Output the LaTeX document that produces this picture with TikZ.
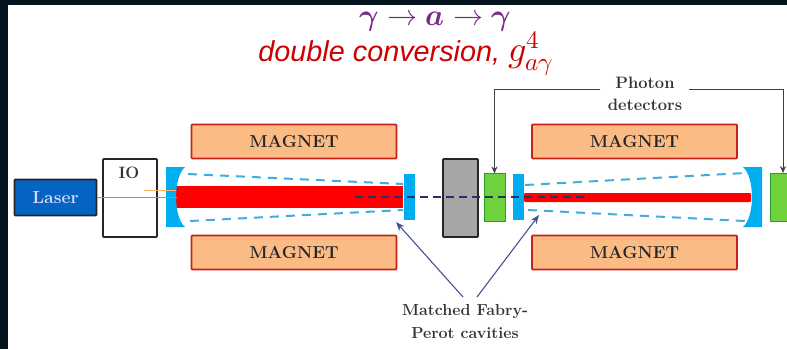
\documentclass[tikz,border=0pt]{standalone}
\usepackage{fontspec}
\usepackage{amsmath}
\usepackage{unicode-math}
\setmathfont{Latin Modern Math}
\newfontfamily\titlefont{Liberation Sans}
\usetikzlibrary{arrows.meta}
\definecolor{bgdark}{HTML}{04141F}
\definecolor{magfill}{HTML}{FBBB85}
\definecolor{magline}{HTML}{C8201C}
\definecolor{cavblue}{HTML}{00AEEF}
\definecolor{dashblue}{HTML}{3FAEDD}
\definecolor{detgreen}{HTML}{6FD23C}
\definecolor{detline}{HTML}{2CA02C}
\definecolor{laserblue}{HTML}{0563C1}
\definecolor{navy}{HTML}{27306F}
\definecolor{arrownavy}{HTML}{47528F}
\definecolor{txtgray}{HTML}{333333}
\definecolor{ttlviolet}{HTML}{7B2A8C}
\tikzset{
  x=1pt,y=-1pt,
  box/.style={inner sep=0pt,outer sep=0pt,anchor=center},
  magnet/.style={box,draw=magline,line width=1.8pt,fill=magfill,rounded corners=0.8pt,minimum width=205pt,minimum height=34pt,text=black!85,font=\fontsize{17.3}{20}\selectfont\bfseries},
  cavity/.style={box,fill=cavblue,minimum width=11pt,minimum height=46pt},
  detector/.style={box,draw=detline,line width=1pt,fill=detgreen,minimum height=48pt},
  lbl/.style={inner sep=0pt,align=center,text=txtgray,font=\fontsize{16.5}{22}\selectfont\bfseries},
  pointer/.style={draw=arrownavy,line width=1.1pt,-{Stealth[length=9pt,width=7pt]}},
  bracket/.style={draw=black!75,line width=1pt,-{Stealth[length=7pt,width=6pt]}},
  cavdash/.style={draw=dashblue,line width=2pt,dash pattern=on 9pt off 7pt},
}
\begin{document}
\begin{tikzpicture}
\useasboundingbox (0,0) rectangle (787,349);
\fill[bgdark] (0,0) rectangle (787,349);
\fill[white] (8,5) rectangle (787,349);
% title
\node[text=ttlviolet,inner sep=0pt] (ttl) at (435.5,21) {\fontsize{30}{32}\selectfont$\symbfit{\gamma}\rightarrow\symbfit{a}\rightarrow\symbfit{\gamma}$};
\node[text=red!80!black,inner sep=0pt] (sub) at (406,54) {\fontsize{28.8}{30}\selectfont\titlefont\itshape double conversion, {\fontsize{36}{38}\selectfont$g^{4}_{a\gamma}$}};
% beams under everything
\fill[red] (176,186) rectangle (403,208);
\fill[red,rounded corners=1pt] (524,193) rectangle (751,202);
% laser and IO
\node[box,draw=black!85,line width=1.8pt,fill=laserblue,rounded corners=0.8pt,minimum width=82pt,minimum height=36pt,text=white!85!blue,font=\fontsize{17.5}{20}\selectfont\bfseries] (laser) at (55.5,197.5) {Laser};
\node[box,draw=black!85,line width=1.8pt,fill=white,rounded corners=0.8pt,minimum width=54pt,minimum height=78pt] (io) at (130,198) {};
\node[lbl,text=black!80] (iotext) at (129,173) {IO};
% curved mirrors
\fill[cavblue] (166,167) -- (185,167) .. controls (179,172) and (176,185) .. (176,197) .. controls (176,209) and (179,222) .. (185,227) -- (166,227) -- cycle;
\fill[cavblue] (762,167) -- (743,167) .. controls (749,172) and (752,185) .. (752,197) .. controls (752,209) and (749,222) .. (743,227) -- (762,227) -- cycle;
\coordinate (mL) at (177,197);
\coordinate (mLo) at (176,190);
\coordinate (ioo) at (144,190);
\draw[red!60!white,line width=0.8pt] (laser.east |- mL) -- (mL);
\draw[orange!60!white,line width=0.8pt] (ioo) -- (mLo);
% dashed cavity envelopes
\coordinate (a1) at (188,174); \coordinate (a2) at (403,184);
\coordinate (b1) at (190,221); \coordinate (b2) at (403,210);
\coordinate (c1) at (525,185); \coordinate (c2) at (745,173);
\coordinate (d1) at (528,210); \coordinate (d2) at (745,221);
\draw[cavdash] (a1) -- (a2);
\draw[cavdash] (b1) -- (b2);
\draw[cavdash] (c1) -- (c2);
\draw[cavdash] (d1) -- (d2);
% magnets
\node[magnet] (m1) at (294,141.5) {MAGNET};
\node[magnet] (m2) at (294,252.5) {MAGNET};
\node[magnet] (m3) at (634.5,141.5) {MAGNET};
\node[magnet] (m4) at (634.5,252.5) {MAGNET};
% optics
\node[cavity] (c3) at (409.5,197) {};
\node[cavity] (c4) at (518.5,197) {};
\node[box,draw=black!85,line width=1.8pt,fill=black!35,rounded corners=0.8pt,minimum width=35pt,minimum height=78pt] (wall) at (460.5,198) {};
\node[detector,minimum width=21pt] (det1) at (494.5,197.5) {};
\node[detector,minimum width=22pt] (det2) at (781,197.5) {};
% axion path
\coordinate (ax1) at (355,197); \coordinate (ax2) at (590,197);
\draw[navy,line width=1.6pt,dash pattern=on 8pt off 5pt] (ax1) -- (ax2);
% labels
\node[lbl] (pd) at (645,94) {Photon\\detectors};
\node[lbl,font=\fontsize{16}{23}\selectfont\bfseries] (fp) at (465,321) {Matched Fabry-\\Perot cavities};
% photon detector pointers
\coordinate (pl) at (600,89); \coordinate (pr) at (689,89);
\draw[bracket] (pl) -| (det1.north);
\draw[bracket] (pr) -| (783,173);
% cavity pointers
\coordinate (f1) at (463,297); \coordinate (f2) at (477,297);
\coordinate (t1) at (396,222); \coordinate (t2) at (539,215);
\draw[pointer] (f1) -- (t1);
\draw[pointer] (f2) -- (t2);
\end{tikzpicture}
\end{document}
